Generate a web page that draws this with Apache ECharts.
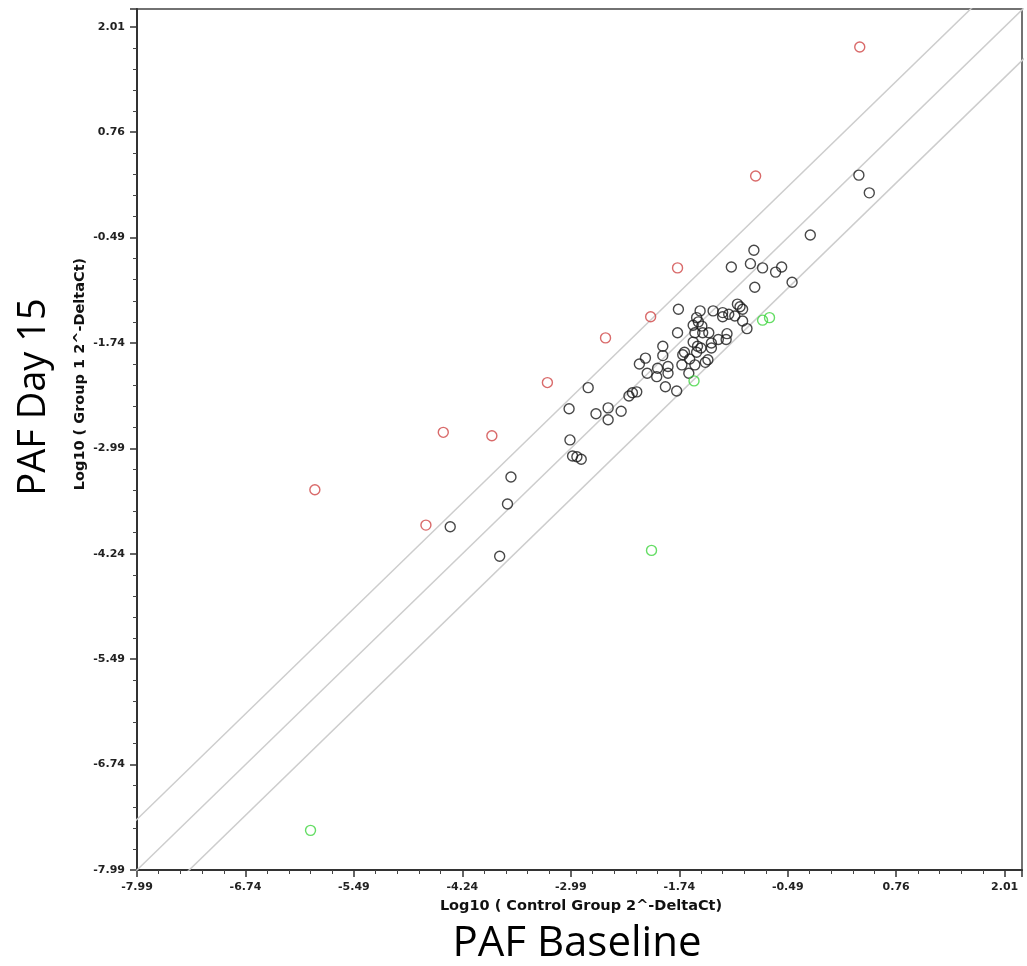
<!DOCTYPE html>
<html>
<head>
<meta charset="utf-8">
<script src="https://cdn.jsdelivr.net/npm/echarts@6/dist/echarts.min.js"></script>
<style>
html,body{margin:0;padding:0;background:#fff;}
#chart{width:1027px;height:966px;}
</style>
</head>
<body>
<div id="chart"></div>
<script>
// ---- Data (log10 values) ----
const tickLabels = ['-7.99','-6.74','-5.49','-4.24','-2.99','-1.74','-0.49','0.76','2.01'];
const axisMin = -7.99;
const tickStep = 1.25;

// Unchanged genes (black)
const blackX = [0.33,0.45,-0.23,-0.88,-1.14,-0.92,-0.78,-0.63,-0.56,-0.44,-0.87,
  -1.75,-1.50,-1.35,-1.24,-1.17,-1.24,-1.10,-1.07,-1.04,-1.01,-1.01,-0.96,-1.54,-1.52,-1.58,-1.48,-1.56,-1.47,-1.40,-1.76,-1.19,-1.20,-1.29,-1.37,-1.58,-1.53,-1.49,-1.37,-1.54,-1.68,-1.70,-1.62,-1.56,-1.44,-1.41,-1.71,-1.63,-1.93,-1.93,-2.13,-2.20,-2.11,-1.99,-2.00,-1.87,-1.87,-1.90,-1.77,
  -2.79,-3.01,-2.70,-2.56,-2.56,-2.41,-2.32,-2.28,-2.23,-3.00,-2.97,-2.92,-2.87,-3.68,-3.72,-4.38,-3.81];
const blackY = [0.25,0.04,-0.46,-0.64,-0.84,-0.80,-0.85,-0.90,-0.84,-1.02,-1.08,
  -1.34,-1.36,-1.36,-1.38,-1.40,-1.43,-1.42,-1.28,-1.31,-1.34,-1.48,-1.57,-1.44,-1.49,-1.53,-1.54,-1.62,-1.62,-1.62,-1.62,-1.63,-1.70,-1.70,-1.74,-1.73,-1.78,-1.80,-1.80,-1.85,-1.85,-1.88,-1.93,-2.00,-1.97,-1.94,-2.00,-2.10,-1.78,-1.89,-1.92,-1.99,-2.10,-2.04,-2.14,-2.02,-2.10,-2.26,-2.31,
  -2.27,-2.52,-2.58,-2.51,-2.65,-2.55,-2.37,-2.33,-2.32,-2.89,-3.08,-3.09,-3.12,-3.33,-3.65,-3.92,-4.27];

// Up-regulated genes (red)
const redX = [0.34,-0.86,-1.76,-2.07,-2.59,-3.26,-4.46,-3.90,-5.94,-4.66];
const redY = [1.77,0.24,-0.85,-1.43,-1.68,-2.21,-2.80,-2.84,-3.48,-3.90];

// Down-regulated genes (green)
const greenX = [-5.99,-2.06,-1.57,-0.78,-0.70];
const greenY = [-7.52,-4.20,-2.19,-1.47,-1.44];

// Fold-change boundary lines: y = x + offset
const lineOffsets = [0.602, 0, -0.602];

// ---- Chart ----
const SHIFT = -axisMin; // plot in shifted space so ticks start at min
const toPts = (xs, ys) => xs.map((x, i) => [x + SHIFT, ys[i] + SHIFT]);

function fmt(val) {
  const k = val / tickStep;
  const r = Math.round(k);
  if (Math.abs(k - r) > 1e-6) return '';
  return tickLabels[r] !== undefined ? tickLabels[r] : '';
}

const axisCommon = {
  type: 'value',
  min: 0,
  interval: tickStep,
  splitLine: { show: false },
  axisLine: { show: true, onZero: false, lineStyle: { color: '#333', width: 2 } },
  axisTick: { show: true, length: 7, lineStyle: { color: '#333', width: 1.5 } },
  minorTick: { show: true, splitNumber: 5, length: 4, lineStyle: { color: '#444', width: 1 } },
  axisLabel: { formatter: fmt, fontFamily: 'DejaVu Sans', fontSize: 11, fontWeight: 'bold', color: '#222' }
};

const lineSeries = lineOffsets.map(off => ({
  type: 'line',
  data: [[-2, -2 + off], [12, 12 + off]],
  symbol: 'none',
  silent: true,
  clip: true,
  z: 1,
  lineStyle: { color: '#cdcdcd', width: 1.5 }
}));

const scatter = (pts, color) => ({
  type: 'scatter',
  data: pts,
  symbol: 'circle',
  symbolSize: 10,
  z: 3,
  itemStyle: { color: 'rgba(0,0,0,0)', borderColor: color, borderWidth: 1.4 }
});

const chart = echarts.init(document.getElementById('chart'), null, { renderer: 'canvas' });
chart.setOption({
  backgroundColor: '#fff',
  animation: false,
  grid: { left: 137, right: 5, top: 9, bottom: 96, show: true, borderColor: '#444', borderWidth: 1.5, backgroundColor: '#fff' },
  xAxis: Object.assign({}, axisCommon, { max: 10.2, axisLabel: Object.assign({}, axisCommon.axisLabel, { margin: 12 }) }),
  yAxis: Object.assign({}, axisCommon, { max: 10.21, axisLabel: Object.assign({}, axisCommon.axisLabel, { margin: 12 }) }),
  series: [
    ...lineSeries,
    scatter(toPts(blackX, blackY), '#1a1a1a'),
    scatter(toPts(redX, redY), '#d04545'),
    scatter(toPts(greenX, greenY), '#3fd43f')
  ],
  graphic: [
    { type: 'text', x: 581, y: 906, style: { text: 'Log10 ( Control Group 2^-DeltaCt)', font: 'bold 14.5px "DejaVu Sans"', fill: '#111', textAlign: 'center', textVerticalAlign: 'middle' } },
    { type: 'text', x: 80, y: 374, rotation: Math.PI / 2, style: { text: 'Log10 ( Group 1 2^-DeltaCt)', font: 'bold 14.5px "DejaVu Sans"', fill: '#111', textAlign: 'center', textVerticalAlign: 'middle' } },
    { type: 'text', x: 577, y: 944, style: { text: 'PAF Baseline', font: '42px "Open Sans"', fill: '#000', textAlign: 'center', textVerticalAlign: 'middle' } },
    { type: 'text', x: 34, y: 397, rotation: Math.PI / 2, style: { text: 'PAF Day 15', font: '38px "Open Sans"', fill: '#000', textAlign: 'center', textVerticalAlign: 'middle' } }
  ]
});
</script>
</body>
</html>
